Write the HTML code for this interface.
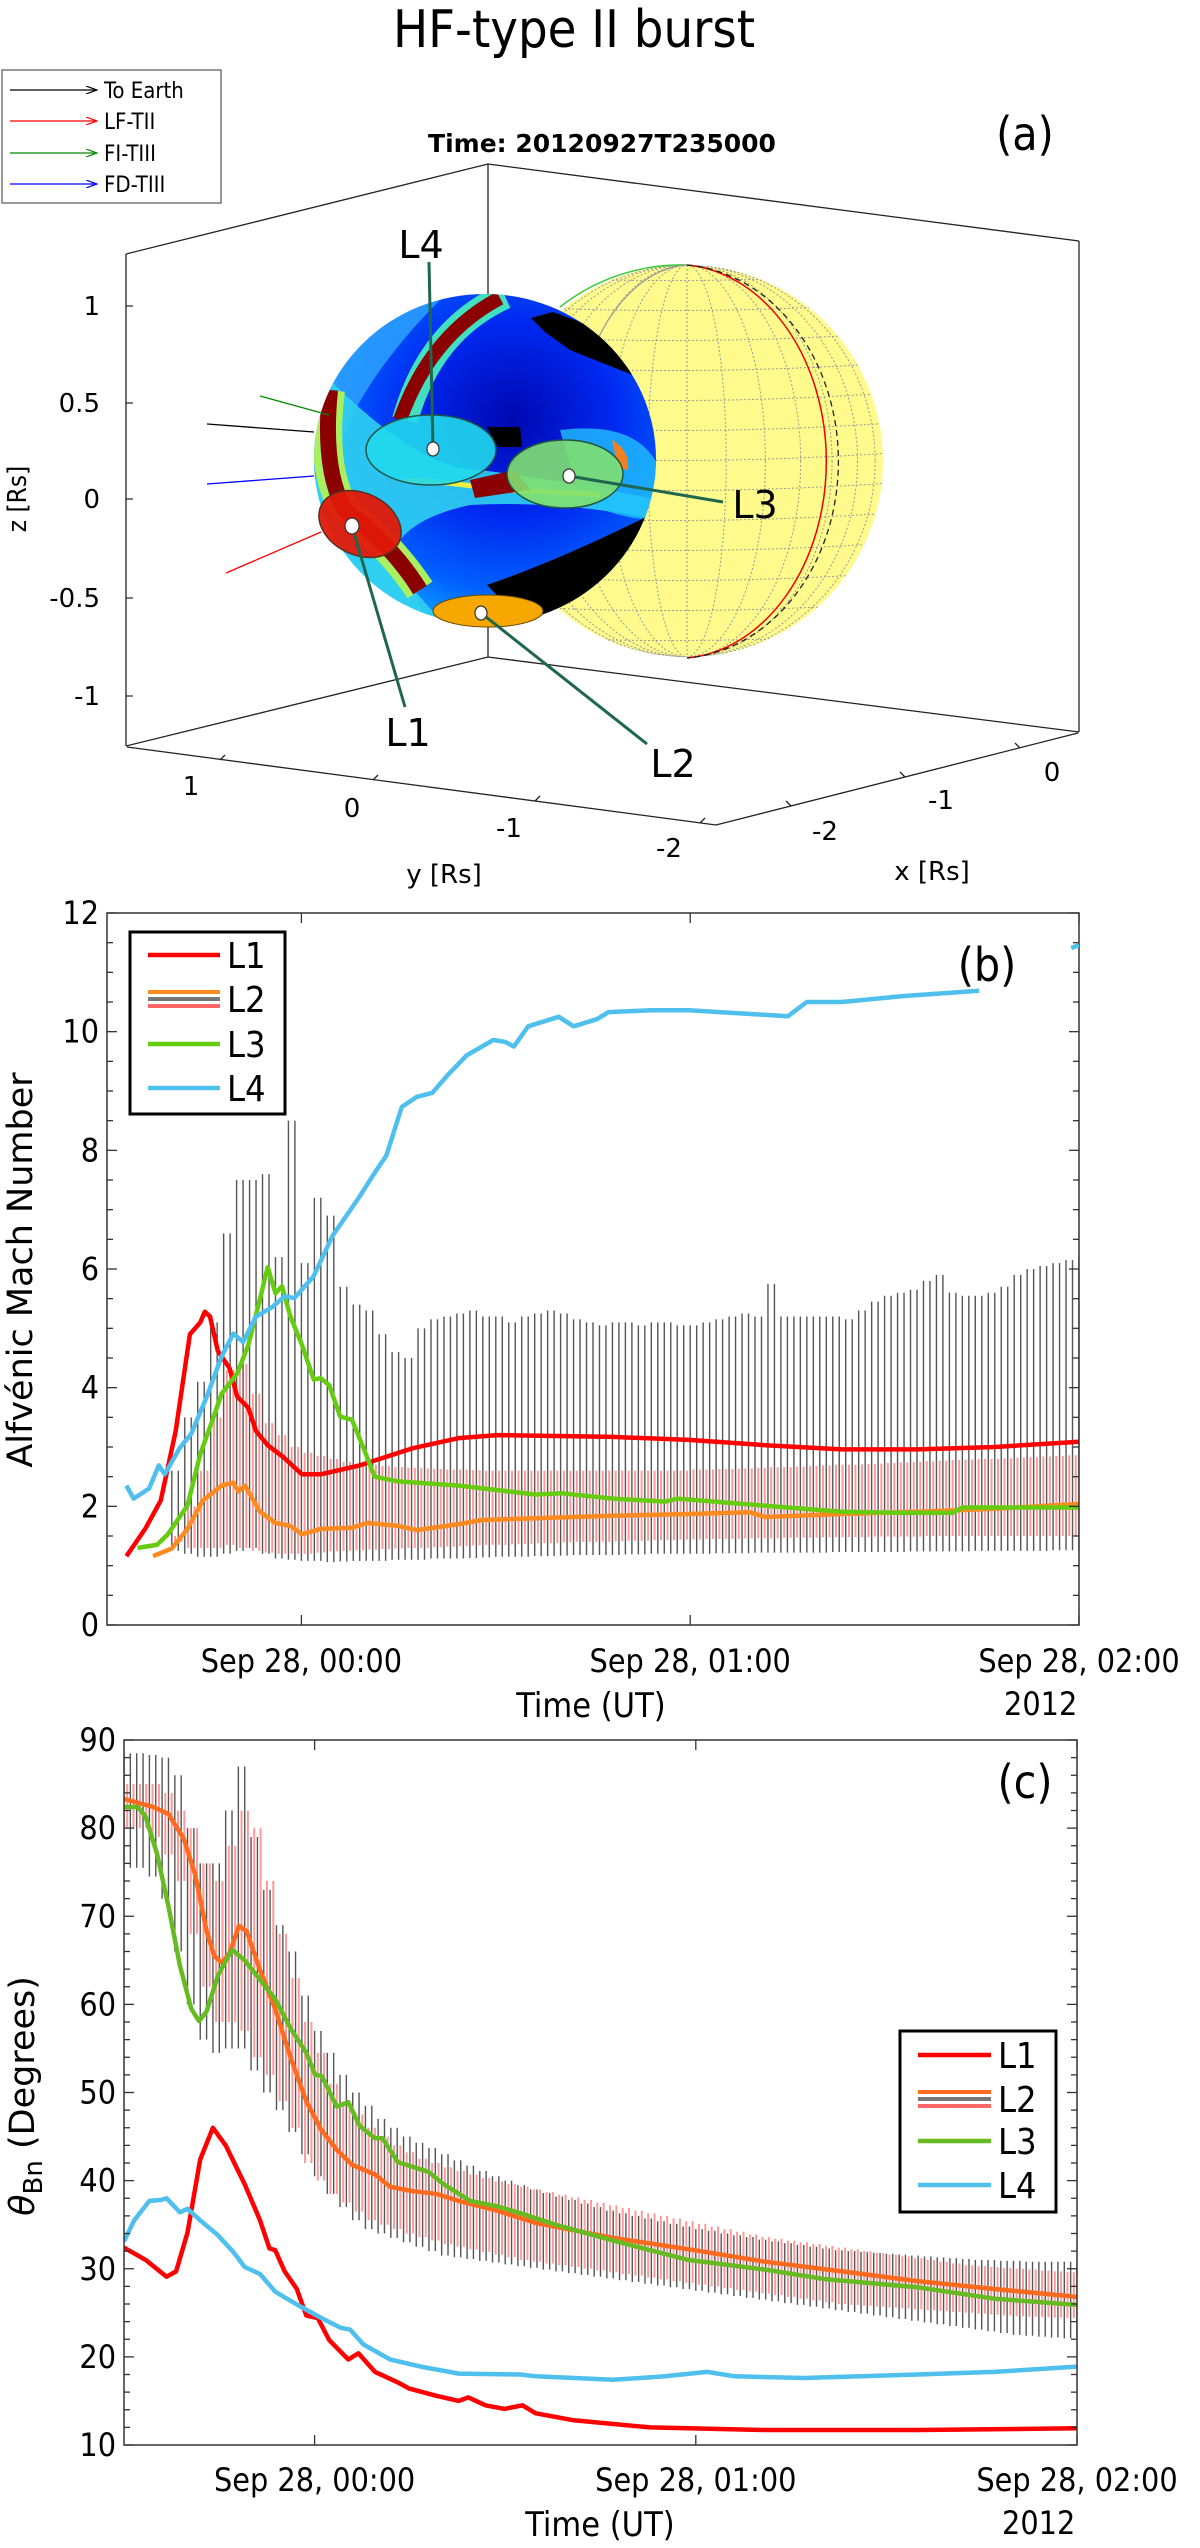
<!DOCTYPE html>
<html><head><meta charset="utf-8"><style>
html,body{margin:0;padding:0;background:#fff;}
svg text{font-family:"DejaVu Sans","Liberation Sans",sans-serif;}
.tk{font-family:"DejaVu Sans Condensed","DejaVu Sans","Liberation Sans",sans-serif;}
</style></head><body>
<svg id="fig" xmlns="http://www.w3.org/2000/svg" width="1200" height="2543" viewBox="0 0 1200 2543">
<defs>
<clipPath id="sphClip"><ellipse cx="485" cy="459" rx="171" ry="165"/></clipPath>
<clipPath id="ySphClip"><circle cx="687" cy="461" r="196"/></clipPath>
<clipPath id="clipB"><rect x="107" y="913" width="972" height="712"/></clipPath>
<clipPath id="clipC"><rect x="124" y="1740" width="953" height="705"/></clipPath>
<radialGradient id="blueG" cx="0.58" cy="0.38" r="0.65">
<stop offset="0" stop-color="#0008b0"/><stop offset="0.45" stop-color="#0028f0"/><stop offset="0.8" stop-color="#0060ff"/><stop offset="1" stop-color="#10a0ff"/></radialGradient>
<marker id="arrK" markerWidth="12" markerHeight="8" refX="11" refY="4" orient="auto" markerUnits="userSpaceOnUse"><path d="M0,0 L11,4 L0,8" fill="none" stroke="#000" stroke-width="1.2"/></marker>
<marker id="arrR" markerWidth="12" markerHeight="8" refX="11" refY="4" orient="auto" markerUnits="userSpaceOnUse"><path d="M0,0 L11,4 L0,8" fill="none" stroke="#f00" stroke-width="1.2"/></marker>
<marker id="arrG" markerWidth="12" markerHeight="8" refX="11" refY="4" orient="auto" markerUnits="userSpaceOnUse"><path d="M0,0 L11,4 L0,8" fill="none" stroke="#080" stroke-width="1.2"/></marker>
<marker id="arrB" markerWidth="12" markerHeight="8" refX="11" refY="4" orient="auto" markerUnits="userSpaceOnUse"><path d="M0,0 L11,4 L0,8" fill="none" stroke="#00f" stroke-width="1.2"/></marker>
</defs>

<text x="574" y="47" font-size="52" text-anchor="middle" class="tk">HF-type II burst</text>

<g>
<g>
<rect x="2" y="70" width="219" height="133" fill="#fff" stroke="#555" stroke-width="1.2"/>
<line x1="10" y1="90" x2="97" y2="90" stroke="#000" stroke-width="1.2" marker-end="url(#arrK)"/>
<text x="104" y="98" font-size="22" class="tk">To Earth</text>
<line x1="10" y1="121" x2="97" y2="121" stroke="#f00" stroke-width="1.2" marker-end="url(#arrR)"/>
<text x="104" y="129" font-size="22" class="tk">LF-TII</text>
<line x1="10" y1="153" x2="97" y2="153" stroke="#080" stroke-width="1.2" marker-end="url(#arrG)"/>
<text x="104" y="161" font-size="22" class="tk">FI-TIII</text>
<line x1="10" y1="184" x2="97" y2="184" stroke="#00f" stroke-width="1.2" marker-end="url(#arrB)"/>
<text x="104" y="192" font-size="22" class="tk">FD-TIII</text>
</g>
<text x="602" y="152" font-size="25" font-weight="bold" text-anchor="middle">Time: 20120927T235000</text>
<text x="1025" y="150" font-size="46" text-anchor="middle" class="tk">(a)</text>

<g stroke="#222" stroke-width="1.3" fill="none">
<polyline points="126,254 488,164 1079,241"/>
<line x1="488" y1="164" x2="488" y2="657"/>
<polyline points="126,746 488,657 1079,732"/>
<line x1="126" y1="254" x2="126" y2="746"/>
<line x1="1079" y1="241" x2="1079" y2="732"/>
</g>
<g class="tk" font-size="26" text-anchor="end">
<text x="100" y="315">1</text><text x="100" y="412">0.5</text><text x="100" y="508">0</text><text x="100" y="607">-0.5</text><text x="100" y="705">-1</text>
</g>
<g stroke="#222" stroke-width="1.2"><line x1="126" y1="306" x2="133" y2="306"/><line x1="126" y1="403" x2="133" y2="403"/><line x1="126" y1="499" x2="133" y2="499"/><line x1="126" y1="598" x2="133" y2="598"/><line x1="126" y1="696" x2="133" y2="696"/></g>
<text transform="translate(26,499) rotate(-90)" font-size="26" text-anchor="middle" class="tk">z [Rs]</text>

<g>
<circle cx="687" cy="461" r="196" fill="#fffa8c"/>
<g clip-path="url(#ySphClip)" fill="none" stroke="#999" stroke-width="1" stroke-dasharray="2,2" id="ygrid"></g>
<path d="M687,265 A150,197 0 0 1 687,658" fill="none" stroke="#e00" stroke-width="1.5"/>
<path d="M687,265 A163,197 0 0 1 687,658" fill="none" stroke="#222" stroke-width="1.3" stroke-dasharray="6,4"/>
<path d="M687,265 A196,196 0 0 0 560,307" fill="none" stroke="#3c3" stroke-width="1.5"/>
<path d="M687,265 A120,197 0 0 0 595,345" fill="none" stroke="#999" stroke-width="1.2"/>
</g>

<g>
<ellipse cx="485" cy="459" rx="171" ry="165" fill="url(#blueG)"/>
<g clip-path="url(#sphClip)">
<path d="M300,380 Q360,330 420,300 L440,300 Q380,360 350,420 Q330,470 330,560 L300,560 Z" fill="#30a8ff" opacity="0.8"/>
<path d="M300,470 Q400,520 430,640 L320,640 Z" fill="#38c8ff" opacity="0.85"/>
<path d="M330,380 Q420,470 480,470 Q560,480 660,500 L660,520 Q560,500 470,505 Q400,520 390,560 Q420,600 460,640 L380,640 Q330,560 310,520 Z" fill="#30d0f0" opacity="0.9"/>
<path d="M560,430 Q640,420 660,470 L660,520 Q620,520 580,500 Z" fill="#20c0ff" opacity="0.8"/>
<path d="M505,296 Q430,330 405,420" fill="none" stroke="#40e0c0" stroke-width="26"/>
<path d="M500,298 Q430,335 400,420" fill="none" stroke="#8b0000" stroke-width="14"/>
<path d="M330,390 Q320,470 345,510 Q390,545 420,590" fill="none" stroke="#a8f060" stroke-width="30"/>
<path d="M330,390 Q322,470 345,510 Q392,545 420,590" fill="none" stroke="#8b0000" stroke-width="16"/>
<path d="M405,480 Q450,482 500,490 Q560,492 600,495" fill="none" stroke="#f0f040" stroke-width="5"/>
<path d="M470,480 L515,470 L530,490 L475,498 Z" fill="#8b0000"/>
<polygon points="531,318 553,312 580,322 610,338 640,358 662,385 660,400 633,375 600,362 570,350 545,332" fill="#000"/>
<polygon points="487,427 520,427 522,447 498,447" fill="#000"/>
<path d="M487,585 Q560,560 650,515 L660,515 L660,640 L540,640 Z" fill="#000"/>
<path d="M310,540 Q360,600 460,630 L300,640 Z" fill="#000"/>
<path d="M612,440 Q630,450 628,470 L618,468 Z" fill="#f08020"/>
</g>
<ellipse cx="431" cy="450" rx="65" ry="35" fill="#20d8ec" fill-opacity="0.9" stroke="#225544" stroke-width="1.5"/>
<ellipse cx="565" cy="474" rx="58" ry="34" fill="#80e070" fill-opacity="0.9" stroke="#225544" stroke-width="1.5"/>
<ellipse cx="360" cy="524" rx="43" ry="31" transform="rotate(25 360 524)" fill="#e01808" fill-opacity="0.95" stroke="#553322" stroke-width="1.5"/>
<ellipse cx="488" cy="611" rx="55" ry="16" fill="#f7a800" stroke="#664400" stroke-width="1"/>
</g>
<g stroke-width="1.3">
<line x1="260" y1="396" x2="329" y2="415" stroke="#080"/>
<line x1="207" y1="424" x2="314" y2="432" stroke="#000"/>
<line x1="207" y1="484" x2="314" y2="476" stroke="#00f"/>
<line x1="226" y1="573" x2="321" y2="532" stroke="#f00"/>
</g>
<g stroke="#1f6650" stroke-width="3">
<line x1="433" y1="449" x2="429" y2="262"/>
<line x1="569" y1="476" x2="723" y2="502"/>
<line x1="352" y1="526" x2="405" y2="707"/>
<line x1="481" y1="613" x2="647" y2="744"/>
</g>
<g fill="#fff" stroke="#333" stroke-width="1.2">
<ellipse cx="433" cy="449" rx="6" ry="7"/><ellipse cx="569" cy="476" rx="6" ry="7"/><ellipse cx="352" cy="526" rx="7" ry="8"/><ellipse cx="481" cy="613" rx="6" ry="7"/>
</g>
<g class="tk" font-size="38" text-anchor="middle">
<text x="421" y="258">L4</text>
<text x="755" y="518">L3</text>
<text x="408" y="746">L1</text>
<text x="673" y="777">L2</text>
</g>
<g stroke="#222" stroke-width="1.3" fill="none">
<polyline points="127,747 716,825 1078,733"/>
<line x1="220" y1="760" x2="225" y2="755"/><line x1="373" y1="780" x2="378" y2="775"/><line x1="535" y1="801" x2="540" y2="796"/><line x1="700" y1="823" x2="705" y2="818"/>
<line x1="791" y1="806" x2="786" y2="801"/><line x1="905" y1="777" x2="900" y2="772"/><line x1="1020" y1="748" x2="1015" y2="743"/>
</g>
<g class="tk" font-size="26" text-anchor="middle">
<text x="191" y="795">1</text><text x="352" y="817">0</text><text x="509" y="837">-1</text><text x="669" y="857">-2</text>
<text x="825" y="840">-2</text><text x="941" y="809">-1</text><text x="1052" y="781">0</text>
<text x="444" y="883">y [Rs]</text>
<text x="932" y="880">x [Rs]</text>
</g>
</g>

<g id="panelB"></g>
<g id="panelC"></g>
</svg>
<script>
const bL1T=[3,5.9,8.3,10.6,12.8,14.4,15.1,15.9,17.1,18.9,20.1,21.8,23,24.8,27.2,30.1,33,39,47.2,54.3,60.2,78,89.8,101.6,113.4,125.2,137,150];
const bL1V=[1.16,1.62,2.1,3.27,4.9,5.1,5.28,5.2,4.62,4.33,3.85,3.66,3.27,3.03,2.83,2.54,2.54,2.69,2.98,3.15,3.2,3.17,3.12,3.03,2.96,2.96,3.0,3.09];
const bL2T=[7.1,10,12.4,14.8,17.7,19.5,20.3,21.3,23.6,26,28.3,30.1,33,37.8,40.2,44.9,47.8,54.3,57.9,66.1,78,89.8,99.2,101.6,113.4,125.2,137,150];
const bL2V=[1.16,1.29,1.62,2.1,2.35,2.4,2.25,2.35,1.91,1.72,1.67,1.53,1.62,1.64,1.72,1.67,1.6,1.7,1.77,1.8,1.84,1.87,1.9,1.82,1.87,1.91,1.96,2.04];
const bL3T=[4.7,7.7,9.4,11.2,12.4,14.4,16.3,17.7,20.1,21.8,23.6,24.8,26,27,28.3,30.1,31.9,33,34.3,36,37.8,39.6,41.3,44.9,54.3,66.1,70.3,78,86.2,88,101.6,113.4,122.8,130.5,132,150];
const bL3V=[1.3,1.35,1.53,1.82,2.01,2.88,3.46,3.9,4.24,4.72,5.49,6.03,5.59,5.71,5.2,4.72,4.14,4.16,4.04,3.51,3.46,2.98,2.5,2.42,2.35,2.2,2.22,2.13,2.08,2.13,2.01,1.91,1.89,1.89,1.98,1.98];
const bL4T=[3,4.1,6.5,8,8.9,11.2,13,15.4,17.7,19.5,21,23,25.4,27.4,28.9,31.9,34.8,38.8,41.3,43.1,45.5,47.8,50.2,52.6,55.5,59.6,61.4,62.8,65,69.7,72,75.6,77.4,83.9,89.8,105.1,108,113.4,122.8,134.6];
const bL4V=[2.35,2.13,2.3,2.69,2.54,2.98,3.22,3.85,4.53,4.91,4.77,5.2,5.35,5.54,5.51,5.88,6.56,7.19,7.62,7.91,8.73,8.9,8.97,9.27,9.6,9.86,9.83,9.75,10.09,10.25,10.09,10.21,10.33,10.36,10.36,10.26,10.5,10.5,10.6,10.69];
const bL4bT=[148.8,150];
const bL4bV=[11.41,11.46];
const bErrStart=10, bErrStep=2;
const bGrayHi=[2.6,3.5,4.1,5.1,6.6,7.5,7.5,7.6,6.2,8.5,6.1,7.2,6.9,5.7,5.4,5.3,4.9,4.6,4.5,5.0,5.15,5.2,5.25,5.3,5.2,5.2,5.1,5.2,5.25,5.3,5.25,5.15,5.1,5.05,5.1,5.1,5.05,5.1,5.1,5.05,5.05,5.1,5.15,5.2,5.25,5.2,5.75,5.2,5.2,5.2,5.2,5.2,5.15,5.3,5.45,5.55,5.6,5.65,5.8,5.9,5.6,5.55,5.55,5.6,5.7,5.9,6.0,6.05,6.1,6.15,6.2];
const bGrayLo=[1.25,1.2,1.15,1.15,1.2,1.25,1.3,1.2,1.12,1.1,1.08,1.08,1.06,1.07,1.08,1.08,1.08,1.1,1.1,1.1,1.12,1.12,1.12,1.13,1.14,1.15,1.15,1.15,1.16,1.16,1.17,1.18,1.18,1.18,1.18,1.19,1.19,1.2,1.2,1.2,1.2,1.2,1.21,1.21,1.21,1.22,1.22,1.22,1.22,1.22,1.22,1.23,1.23,1.23,1.23,1.23,1.23,1.24,1.24,1.24,1.24,1.24,1.25,1.25,1.25,1.25,1.25,1.25,1.26,1.26,1.26];
const bRedHi=[1.5,2.0,2.6,3.5,4.3,4.4,3.9,3.4,3.2,3.0,2.9,2.85,2.8,2.75,2.72,2.7,2.68,2.66,2.65,2.64,2.63,2.62,2.62,2.61,2.6,2.6,2.6,2.6,2.6,2.6,2.6,2.6,2.6,2.6,2.6,2.6,2.6,2.6,2.6,2.6,2.62,2.62,2.63,2.63,2.64,2.65,2.66,2.66,2.67,2.68,2.69,2.7,2.7,2.71,2.72,2.73,2.74,2.75,2.76,2.77,2.78,2.79,2.8,2.8,2.81,2.82,2.83,2.84,2.85,2.86,2.87];
const bRedLo=[1.4,1.3,1.3,1.3,1.35,1.3,1.25,1.22,1.2,1.2,1.2,1.22,1.24,1.25,1.26,1.27,1.28,1.29,1.3,1.3,1.31,1.32,1.33,1.34,1.35,1.35,1.36,1.37,1.38,1.38,1.39,1.4,1.4,1.4,1.41,1.42,1.42,1.43,1.43,1.44,1.44,1.45,1.45,1.45,1.46,1.46,1.46,1.47,1.47,1.47,1.48,1.48,1.48,1.48,1.49,1.49,1.49,1.49,1.5,1.5,1.5,1.5,1.5,1.5,1.5,1.5,1.5,1.5,1.5,1.5,1.5];
const bYTicks=[0,2,4,6,8,10,12];
const xTickMin=[30,90,150];
const xTickLabels=["Sep 28, 00:00","Sep 28, 01:00","Sep 28, 02:00"];

const cL1T=[0,3.4,6.7,8.2,10,12,14,16,19,21.4,22.9,23.8,25.3,27.2,28.7,30.5,32.3,35.3,36.9,39.5,43.1,44.9,49.1,52.7,54.2,56.9,59.9,62.7,64.8,70.8,82.8,100.9,124.9,150];
const cL1V=[32.4,31,29.1,29.7,34.1,42.4,46,44,39.6,35.5,32.3,32.1,29.7,27.7,24.7,24.4,21.9,19.7,20.4,18.3,17.1,16.4,15.6,15,15.4,14.5,14.1,14.5,13.6,12.8,12,11.7,11.7,11.9];
const cL2T=[0,4.6,7,9.4,11.2,13,14.2,15.4,16.6,18.1,19.3,21.4,23.8,26.2,28.7,31.1,33.5,35.9,39.5,41.9,45.5,49.1,52.7,58.7,64.8,77,89.8,100.9,113,124.9,137,150];
const cL2V=[83.3,82.4,81.6,78.8,74.7,68.3,65.5,64.7,65.8,68.9,68.3,63.9,59.5,54,49,45.7,43.5,41.8,40.7,39.3,38.8,38.5,37.7,36.6,35.2,33.5,32.1,30.8,29.7,28.6,27.7,26.8];
const cL3T=[0,2.2,3.4,5.2,7,8.8,10.6,11.8,13,14.8,17,19,21.4,23.8,26.2,28.7,30.1,31.1,33.5,35.3,37.1,39.5,40.7,43.1,47.9,50.3,54.5,58.7,62.4,68.4,77,82.8,88.8,100.9,110.5,124.9,137,150];
const cL3V=[82.4,82.4,81.3,77.1,71.1,64.4,59.5,58.1,59.2,63.3,66.2,65,62.8,60.6,57.3,54.5,52,51.9,48.4,48.9,46.2,44.8,44.8,42.1,41,39.6,37.7,37.1,36.3,34.9,33.2,32.1,31,29.9,28.8,27.9,26.6,25.9];
const cL4T=[0,1.6,4,5.8,6.7,8.8,10,12,14.8,17.2,19,21.4,23.8,26.8,31.1,34.1,35.6,37.7,41.9,46.7,52.7,62.4,64.8,77,85.2,91.8,96.1,106.9,124.9,137,150];
const cL4V=[33.1,35.5,37.7,37.8,38,36.4,36.8,35.5,33.8,31.9,30.2,29.4,27.4,26.1,24.4,23.3,23.1,21.4,19.7,18.9,18.1,18,17.8,17.4,17.8,18.3,17.8,17.6,18,18.3,18.9];
const cErrStart=0, cErrStep=2;
const cGrayHi=[88.5,88.5,88.3,88,86,80,76,76,82,87,79,73,69,66,61,57,54.5,52,50,48.5,47,46,45,44.3,43.7,43,42.3,41.7,41.1,40.5,40,39.5,39,38.6,38.2,37.8,37.4,37,36.6,36.3,36,35.7,35.4,35.1,34.8,34.5,34.3,34,33.8,33.6,33.3,33.1,32.9,32.7,32.5,32.3,32.1,32,31.9,31.8,31.7,31.6,31.5,31.4,31.3,31.2,31.1,31,31,30.9,30.9,30.8,30.8,30.8,30.8,30.8];
const cGrayLo=[75.5,75.5,74.5,72,66,60,56,54.5,55,55,52.5,50,48,45.5,43,40.5,38.5,37,35.5,34.5,34,33.5,33,32.5,32,31.5,31.3,31.1,30.9,30.7,30.5,30.3,30.1,29.9,29.7,29.5,29.3,29.1,28.9,28.7,28.5,28.3,28.1,27.9,27.7,27.5,27.3,27.1,26.9,26.7,26.5,26.3,26.1,25.9,25.7,25.5,25.3,25.1,24.9,24.7,24.5,24.3,24.1,23.9,23.7,23.5,23.3,23.1,22.9,22.7,22.5,22.4,22.3,22.2,22.1,22.0];
const cRedHi=[85,85,85,84,82,80,76,74,78,82,80,74,68,63,58,54.5,51,49,47.5,46,45,44,43.2,42.5,42,41.5,41.1,40.7,40.3,39.9,39.6,39.3,39,38.7,38.4,38.1,37.8,37.5,37.2,36.9,36.6,36.3,36,35.7,35.4,35.1,34.8,34.5,34.2,33.9,33.6,33.4,33.2,33,32.8,32.6,32.4,32.2,32,31.8,31.6,31.4,31.2,31,30.8,30.6,30.4,30.3,30.2,30.1,30,29.9,29.8,29.7,29.6,29.5];
const cRedLo=[80,80,79,77,74,68,62,58,58,57,54,52,49,46,42,40,38.5,37.5,36.5,35.5,35,34.5,34,33.6,33.2,32.8,32.5,32.2,31.9,31.6,31.3,31,30.8,30.6,30.4,30.2,30,29.8,29.6,29.4,29.2,29,28.8,28.6,28.4,28.2,28,27.8,27.6,27.4,27.2,27,26.8,26.6,26.4,26.2,26,25.9,25.8,25.7,25.6,25.5,25.4,25.3,25.2,25.1,25,24.9,24.8,24.7,24.6,24.55,24.5,24.45,24.4,24.3];
const cYTicks=[10,20,30,40,50,60,70,80,90];

const NS="http://www.w3.org/2000/svg";
function mk(tag,parent,attrs){const e=document.createElementNS(NS,tag);for(const k in attrs)e.setAttribute(k,attrs[k]);parent.appendChild(e);return e;}

const yg=document.getElementById('ygrid');
[0.2,0.4,0.58,0.74,0.87,0.96].forEach(f=>{
  const m=mk('ellipse',yg,{cx:687,cy:461,rx:196*f,ry:196});
  
  
});
mk('line',yg,{x1:687,y1:265,x2:687,y2:658});
for(let k=-6;k<=6;k++){
  const yy=461+k*30;
  const p=mk('path',yg,{d:`M480,${yy-6} Q687,${yy+6} 890,${yy-8}`});
  
  
}

function buildPanel(g,o){
  const {x0,y0,w,h,ymin,ymax,sx,sy}=o;
  const clip=mk('g',g,{'clip-path':o.clip});
  const redG=mk('g',clip,{stroke:'#f55','stroke-opacity':0.6,'stroke-width':2});
  
  
  const grayG=mk('g',clip,{stroke:'#555','stroke-width':1.4});
  
  
  const n=Math.min(o.gHi.length,o.gLo.length);
  for(let i=0;i<n;i++){
    const t=o.eStart+i*o.eStep;
    [0,0.5].forEach(f=>{
      const xx=sx(t+f*o.eStep);
      if(xx>x0+w) return;
      const b=mk('line',grayG,{x1:xx,x2:xx,y1:sy(o.gHi[i]),y2:sy(o.gLo[i])});
      
      
    });
  }
  const n2=Math.min(o.rHi.length,o.rLo.length);
  for(let i=0;i<n2;i++){
    const t=o.eStart+i*o.eStep;
    [0.25,0.75].forEach(f=>{
      const xx=sx(t+f*o.eStep);
      if(xx>x0+w) return;
      const b=mk('line',redG,{x1:xx,x2:xx,y1:sy(o.rHi[i]),y2:sy(o.rLo[i])});
      
      
    });
  }
  o.series.forEach(s=>{
    const pts=s.t.map((t,i)=>sx(t).toFixed(1)+','+sy(s.v[i]).toFixed(1)).join(' ');
    const pl=mk('polyline',clip,{points:pts,fill:'none',stroke:s.c,'stroke-width':4.5,'stroke-linejoin':'round'});
    
    
  });
  const box=mk('rect',g,{x:x0,y:y0,width:w,height:h,fill:'none',stroke:'#333','stroke-width':1.5});
  
  
  for(let v=ymin;v<=ymax+1e-9;v+=o.minor){
    const yy=sy(v), L=(Math.abs((v-ymin)/o.major-Math.round((v-ymin)/o.major))<1e-6)?10:6;
    mk('line',g,{x1:x0,x2:x0+L,y1:yy,y2:yy,stroke:'#333','stroke-width':1.3});
    mk('line',g,{x1:x0+w,x2:x0+w-L,y1:yy,y2:yy,stroke:'#333','stroke-width':1.3});
  }
  o.yTicks.forEach(v=>{
    const tx=mk('text',g,{x:x0-8,y:sy(v)+11,'font-size':32,'text-anchor':'end',class:'tk'});
    
    
    tx.textContent=v;
  });
  xTickMin.forEach((m,i)=>{
    const xx=sx(m);
    mk('line',g,{x1:xx,x2:xx,y1:y0+h,y2:y0+h-10,stroke:'#333','stroke-width':1.3});
    mk('line',g,{x1:xx,x2:xx,y1:y0,y2:y0+10,stroke:'#333','stroke-width':1.3});
    const tx=mk('text',g,{x:xx,y:o.tickY,'font-size':32,'text-anchor':'middle',class:'tk'});
    
    
    tx.textContent=xTickLabels[i];
  });
  const yr=mk('text',g,{x:sx(150)-75,y:o.tickY+43,'font-size':32,class:'tk'});
  
  
  yr.textContent='2012';
  const xt=mk('text',g,{x:o.xTitleX,y:o.tickY+45,'font-size':34,'text-anchor':'middle',class:'tk'});
  
  
  xt.textContent='Time (UT)';
  const lg=mk('g',g,{});
  
  
  const L=o.leg;
  mk('rect',lg,{x:L.x,y:L.y,width:L.w,height:L.h,fill:'#fff',stroke:'#000','stroke-width':3});
  o.series.forEach((s,i)=>{
    const yy=L.ys[i];
    if(s.name.indexOf('l2')>=0){
      mk('line',lg,{x1:L.lx1,x2:L.lx2,y1:yy-7,y2:yy-7,stroke:s.c,'stroke-width':4});
      mk('line',lg,{x1:L.lx1,x2:L.lx2,y1:yy,y2:yy,stroke:'#777','stroke-width':4});
      mk('line',lg,{x1:L.lx1,x2:L.lx2,y1:yy+7,y2:yy+7,stroke:'#f66','stroke-width':4});
    } else mk('line',lg,{x1:L.lx1,x2:L.lx2,y1:yy,y2:yy,stroke:s.c,'stroke-width':4.5});
    const tx=mk('text',lg,{x:L.lx2+7,y:yy+13,'font-size':36,class:'tk'});
    
    
    tx.textContent='L'+(i+1);
  });
}

const bx=t=>107+t/150*972, by=v=>1625-v/12*712;
const gB=document.getElementById('panelB');
buildPanel(gB,{x0:107,y0:913,w:972,h:712,ymin:0,ymax:12,major:2,minor:0.5,sx:bx,sy:by,clip:'url(#clipB)',
  eStart:bErrStart,eStep:bErrStep,gHi:bGrayHi,gLo:bGrayLo,rHi:bRedHi,rLo:bRedLo,yTicks:bYTicks,tickY:1672,xTitleX:591,
  series:[{name:'line-l1',t:bL1T,v:bL1V,c:'#ff0000'},{name:'line-l2',t:bL2T,v:bL2V,c:'#ff8a1f'},{name:'line-l3',t:bL3T,v:bL3V,c:'#66cc11'},{name:'line-l4',t:bL4T,v:bL4V,c:'#4fbfee'}],
  leg:{x:130,y:932,w:155,h:182,lx1:148,lx2:220,ys:[955,999,1044,1088]}});
const l4b=mk('polyline',gB,{points:bL4bT.map((t,i)=>bx(t)+','+by(bL4bV[i])).join(' '),fill:'none',stroke:'#4fbfee','stroke-width':4.5,'clip-path':'url(#clipB)'});


const bl=mk('text',gB,{x:987,y:981,'font-size':46,'text-anchor':'middle',class:'tk'});


bl.textContent='(b)';
const byt=mk('text',gB,{transform:'translate(32,1270) rotate(-90)','font-size':35,'text-anchor':'middle'});


byt.textContent='Alfvénic Mach Number';

const cx=t=>124+t/150*953, cy=v=>2445-(v-10)/80*705;
const gC=document.getElementById('panelC');
buildPanel(gC,{x0:124,y0:1740,w:953,h:705,ymin:10,ymax:90,major:10,minor:2,sx:cx,sy:cy,clip:'url(#clipC)',
  eStart:cErrStart,eStep:cErrStep,gHi:cGrayHi,gLo:cGrayLo,rHi:cRedHi,rLo:cRedLo,yTicks:cYTicks,tickY:2491,xTitleX:600,
  series:[{name:'line-l1',t:cL1T,v:cL1V,c:'#ff0000'},{name:'line-l2',t:cL2T,v:cL2V,c:'#ff6a1f'},{name:'line-l3',t:cL3T,v:cL3V,c:'#66bb22'},{name:'line-l4',t:cL4T,v:cL4V,c:'#4fbfee'}],
  leg:{x:900,y:2031,w:156,h:181,lx1:918,lx2:991,ys:[2055,2099,2141,2185]}});
const cl=mk('text',gC,{x:1025,y:1798,'font-size':46,'text-anchor':'middle',class:'tk'});


cl.textContent='(c)';
const cyt=mk('text',gC,{transform:'translate(34,2096) rotate(-90)','font-size':35,'text-anchor':'middle'});


cyt.innerHTML='<tspan font-style="italic">θ</tspan><tspan font-size="26" dy="8">Bn</tspan><tspan dy="-8"> (Degrees)</tspan>';
</script>
</body></html>
